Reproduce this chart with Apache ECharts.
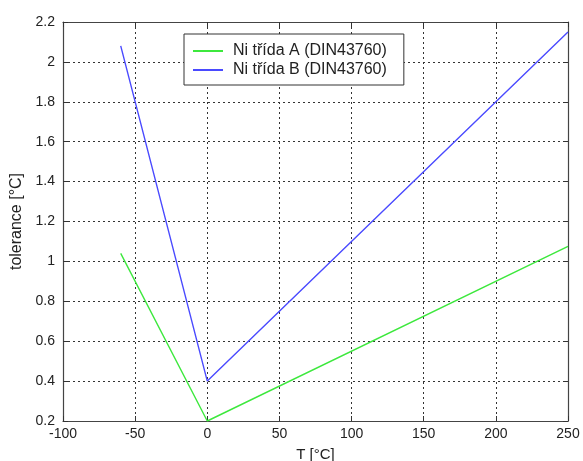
<!DOCTYPE html>
<html>
<head>
<meta charset="utf-8">
<script src="https://cdn.jsdelivr.net/npm/echarts@6/dist/echarts.min.js"></script>
<style>
  html, body { margin: 0; padding: 0; background: #fff; }
  #chart { width: 583px; height: 461px; }
</style>
</head>
<body>
<div id="chart"></div>
<script>
// Tolerance of Ni resistance thermometers (DIN 43760)
const temps = [-60, 0, 250];
const tolClassA = [1.04, 0.2, 1.075];
const tolClassB = [2.08, 0.4, 2.15];
const seriesNames = ['Ni třída A (DIN43760)', 'Ni třída B (DIN43760)'];

const FONT = 'Liberation Sans, Arial, sans-serif';
const textColor = '#222';
const gridLine = { show: true, lineStyle: { color: '#333', type: [2, 3], width: 1 } };
const frameLine = { show: true, onZero: false, lineStyle: { color: '#444', width: 1.2 } };
const tick = { show: true, inside: true, length: 5, lineStyle: { color: '#333' } };

const pairs = (xs, ys) => xs.map((x, i) => [x, ys[i]]);

const chart = echarts.init(document.getElementById('chart'), null, { renderer: 'canvas' });
chart.setOption({
  animation: false,
  backgroundColor: '#fff',
  grid: { left: 63, right: 15, top: 22, bottom: 40, containLabel: false, outerBoundsMode: 'none' },
  legend: {
    orient: 'vertical',
    left: 184, top: 34,
    padding: [9, 17, 7, 9],
    itemGap: 3,
    itemWidth: 30, itemHeight: 2,
    icon: 'rect',
    backgroundColor: '#fff',
    borderColor: '#333', borderWidth: 1,
    textStyle: { fontFamily: FONT, fontSize: 16, color: textColor, padding: [0, 0, 0, 5] },
    data: seriesNames
  },
  xAxis: [{
    type: 'value', min: -100, max: 250, interval: 50,
    name: 'T [°C]', nameLocation: 'middle', nameGap: 26,
    nameTextStyle: { fontFamily: FONT, fontSize: 15, color: textColor },
    axisLine: frameLine, axisTick: tick, splitLine: gridLine,
    axisLabel: { fontFamily: FONT, fontSize: 14, color: textColor, margin: 6 }
  }, {
    type: 'value', position: 'top', min: -100, max: 250, interval: 50,
    axisLine: frameLine, axisTick: tick, splitLine: { show: false },
    axisLabel: { show: false }
  }],
  yAxis: [{
    type: 'value', min: 0.2, max: 2.2, interval: 0.2,
    name: 'tolerance [°C]', nameLocation: 'middle', nameGap: 36, nameRotate: 90,
    nameTextStyle: { fontFamily: FONT, fontSize: 16, color: textColor },
    axisLine: frameLine, axisTick: tick, splitLine: gridLine,
    axisLabel: {
      fontFamily: FONT, fontSize: 14, color: textColor, margin: 8,
      formatter: v => String(Math.round(v * 10) / 10)
    }
  }, {
    type: 'value', position: 'right', min: 0.2, max: 2.2, interval: 0.2,
    axisLine: frameLine, axisTick: tick, splitLine: { show: false },
    axisLabel: { show: false }
  }],
  series: [{
    name: seriesNames[0], type: 'line', showSymbol: false,
    color: '#3de83d',
    lineStyle: { width: 1.4, color: '#3de83d' },
    data: pairs(temps, tolClassA)
  }, {
    name: seriesNames[1], type: 'line', showSymbol: false,
    color: '#4a4aff',
    lineStyle: { width: 1.4, color: '#4a4aff' },
    data: pairs(temps, tolClassB)
  }]
});
</script>
</body>
</html>
